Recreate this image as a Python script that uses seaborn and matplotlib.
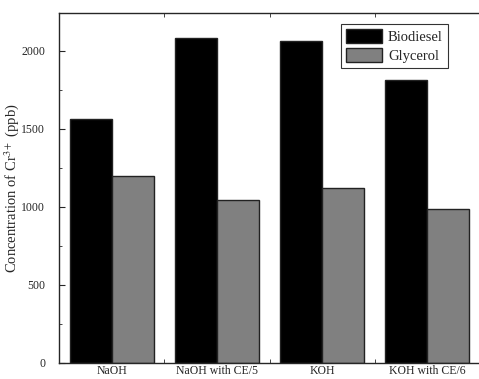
import numpy as np
import pandas as pd
import matplotlib.pyplot as plt
import seaborn as sns
from matplotlib.ticker import MultipleLocator

# catalysts and measured Cr3+ concentrations (ppb)
catalysts = ['NaOH', 'NaOH with CE/5', 'KOH', 'KOH with CE/6']
biodiesel = [1560, 2080, 2065, 1815]
glycerol = [1200, 1040, 1120, 985]

df = pd.DataFrame({
    'catalyst': catalysts * 2,
    'phase': ['Biodiesel'] * 4 + ['Glycerol'] * 4,
    'conc': biodiesel + glycerol,
})

sns.set_style('ticks')
plt.rcParams['font.family'] = ['Liberation Serif', 'DejaVu Serif']
plt.rcParams['mathtext.fontset'] = 'stix'

fig = plt.figure(figsize=(4.79, 3.79), dpi=100)
ax = fig.add_axes([59 / 479, 16.3 / 379, 421 / 479, 349.7 / 379])

sns.barplot(data=df, x='catalyst', y='conc', hue='phase',
            palette=['#000000', '#808080'], width=0.8, ax=ax,
            edgecolor='#222222', linewidth=1.0, saturation=1)

ax.set_xlim(-0.5, 3.5)
ax.set_ylim(0, 2242)
ax.set_xlabel('')
ax.set_ylabel('Concentration of Cr$^{3+}$ (ppb)', fontsize=10.5)
ax.yaxis.set_label_coords(-0.09, 0.5)
ax.yaxis.set_major_locator(MultipleLocator(500))
ax.yaxis.set_minor_locator(MultipleLocator(250))
ax.xaxis.set_minor_locator(MultipleLocator(0.5))
ax.tick_params(axis='both', which='both', direction='in', top=True, right=False)
ax.tick_params(axis='x', which='major', length=0, labelsize=8.5, pad=2)
ax.tick_params(axis='x', which='minor', length=3)
ax.tick_params(axis='y', which='major', length=4, labelsize=8.5, pad=10)
ax.tick_params(axis='y', which='minor', length=2)
ax.spines['right'].set_visible(False)
for s in ['left', 'top', 'bottom']:
    ax.spines[s].set_linewidth(1.0)

leg = ax.legend(loc='upper right', bbox_to_anchor=(0.924, 0.9685), borderaxespad=0,
                fontsize=10.5, frameon=True, fancybox=False, edgecolor='black',
                handlelength=2.5, handleheight=1.1, borderpad=0.35,
                labelspacing=0.25, handletextpad=0.4)
leg.get_frame().set_linewidth(0.8)

fig.savefig('out.png', dpi=100)
